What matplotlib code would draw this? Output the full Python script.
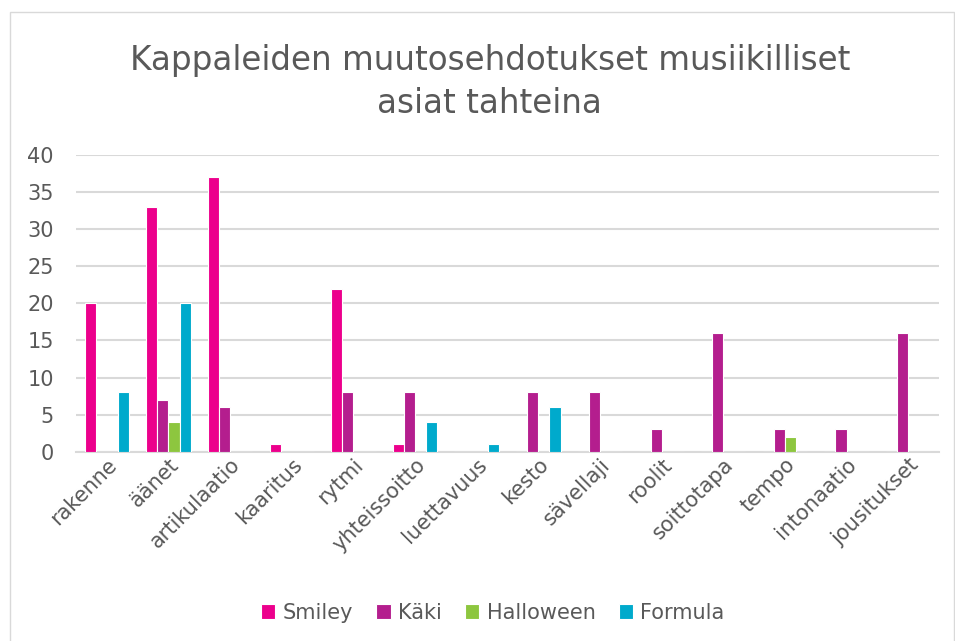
import matplotlib
matplotlib.use("Agg")
import matplotlib.pyplot as plt
import numpy as np
from matplotlib.patches import Rectangle

categories = ["rakenne", "äänet", "artikulaatio", "kaaritus", "rytmi", "yhteissoitto",
              "luettavuus", "kesto", "sävellaji", "roolit", "soittotapa", "tempo",
              "intonaatio", "jousitukset"]
smiley = [20, 33, 37, 1, 22, 1, 0, 0, 0, 0, 0, 0, 0, 0]
kaki = [0, 7, 6, 0, 8, 8, 0, 8, 8, 3, 16, 3, 3, 16]
halloween = [0, 4, 0, 0, 0, 0, 0, 0, 0, 0, 0, 2, 0, 0]
formula = [8, 20, 0, 0, 0, 4, 1, 6, 0, 0, 0, 0, 0, 0]
series = [("Smiley", smiley, "#EC008C"), ("Käki", kaki, "#B41E8E"),
          ("Halloween", halloween, "#8DC63F"), ("Formula", formula, "#00AACC")]

text_col = "#595959"
plt.rcParams["font.family"] = ["DejaVu Sans"]

fig = plt.figure(figsize=(9.55, 6.41), dpi=100)
# light chart frame
fig.patches.append(Rectangle((10 / 955, -0.01), 944 / 955, (641 - 12) / 641 + 0.01,
                             transform=fig.transFigure, fill=False,
                             edgecolor="#D9D9D9", linewidth=1))
ax = fig.add_axes([76 / 955, (641 - 451.7) / 641, 863 / 955, (451.7 - 155) / 641])

x = np.arange(len(categories))
w = 0.18
for i, (name, vals, col) in enumerate(series):
    ax.bar(x + (i - 1.5) * w, vals, width=w, color=col, edgecolor="white", linewidth=0.8,
           label=name, zorder=3)

ax.set_xlim(-0.5, len(categories) - 0.5)
ax.set_ylim(0, 40)
ax.set_yticks(range(0, 41, 5))
ax.grid(axis="y", color="#D9D9D9", linewidth=1.5, zorder=0)
for s in ["top", "right", "left"]:
    ax.spines[s].set_visible(False)
ax.spines["bottom"].set_color("#D9D9D9")
ax.spines["bottom"].set_linewidth(1.5)
ax.tick_params(length=0, colors=text_col, labelsize=15)
ax.tick_params(axis="y", pad=16)
ax.tick_params(axis="x", pad=2)
ax.set_xticks(x)
ax.set_xticklabels(categories, rotation=45, ha="right", rotation_mode="anchor")

fig.text(0.513, 0.872, "Kappaleiden muutosehdotukset musiikilliset\nasiat tahteina",
         ha="center", va="center", fontsize=23.5, color=text_col, linespacing=1.36)

fig.legend(loc="center", bbox_to_anchor=(0.516, 0.044), ncol=4, frameon=False, fontsize=15,
           handlelength=0.7, handleheight=0.7, handletextpad=0.35, columnspacing=1.1,
           labelcolor=text_col)

fig.savefig("out.png", dpi=100)
